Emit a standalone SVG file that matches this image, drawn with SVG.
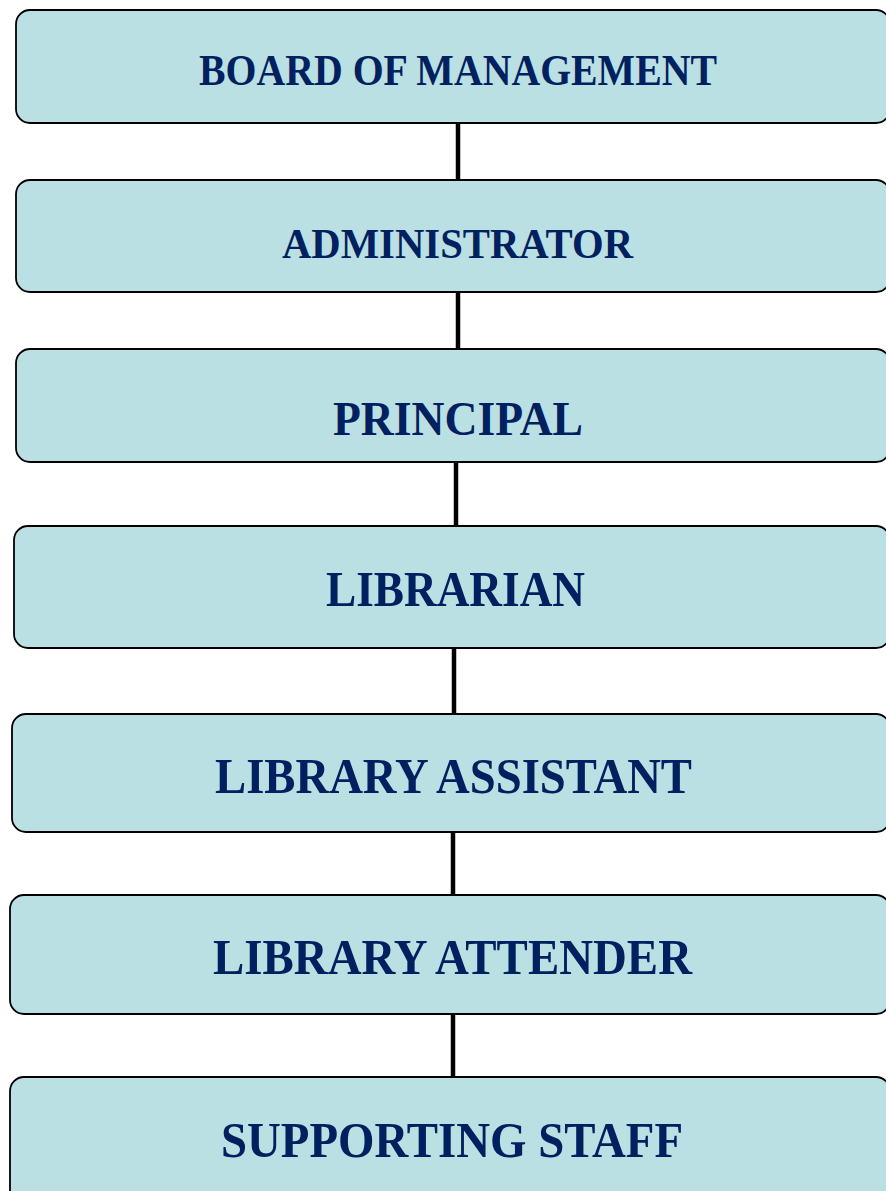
<svg xmlns="http://www.w3.org/2000/svg" width="886" height="1191" viewBox="0 0 886 1191">
  <style>
    .box { fill: #BAE0E3; stroke: #000000; stroke-width: 1.8; }
    .label { font-family: "Liberation Serif", "Times New Roman", serif; font-weight: bold; fill: #002060; }
    .link { stroke: #000000; stroke-width: 4.5; fill: none; }
  </style>
  <rect width="886" height="1191" fill="#FFFFFF"/>

  <!-- vertical links between levels -->
  <g id="connectors">
    <line class="link" x1="458" y1="123" x2="458" y2="180"/>
    <line class="link" x1="458" y1="292" x2="458" y2="349"/>
    <line class="link" x1="456" y1="462" x2="456" y2="526"/>
    <line class="link" x1="454" y1="648" x2="454" y2="714"/>
    <line class="link" x1="453" y1="832" x2="453" y2="895"/>
    <line class="link" x1="453" y1="1014" x2="453" y2="1077"/>
  </g>

  <g id="board">
    <rect class="box" x="16" y="10" width="874" height="113" rx="14"/>
    <text class="label" x="199" y="85" font-size="45" textLength="518" lengthAdjust="spacingAndGlyphs">BOARD OF MANAGEMENT</text>
  </g>

  <g id="administrator">
    <rect class="box" x="16" y="180" width="874" height="112" rx="14"/>
    <text class="label" x="282" y="258" font-size="42" textLength="351" lengthAdjust="spacingAndGlyphs">ADMINISTRATOR</text>
  </g>

  <g id="principal">
    <rect class="box" x="16" y="349" width="874" height="113" rx="14"/>
    <text class="label" x="333" y="435" font-size="48" textLength="250" lengthAdjust="spacingAndGlyphs">PRINCIPAL</text>
  </g>

  <g id="librarian">
    <rect class="box" x="14" y="526" width="876" height="122" rx="14"/>
    <text class="label" x="326" y="606" font-size="51" textLength="259" lengthAdjust="spacingAndGlyphs">LIBRARIAN</text>
  </g>

  <g id="library-assistant">
    <rect class="box" x="12" y="714" width="878" height="118" rx="14"/>
    <text class="label" x="215" y="793" font-size="50" textLength="477" lengthAdjust="spacingAndGlyphs">LIBRARY ASSISTANT</text>
  </g>

  <g id="library-attender">
    <rect class="box" x="10" y="895" width="880" height="119" rx="14"/>
    <text class="label" x="213" y="974" font-size="51" textLength="479" lengthAdjust="spacingAndGlyphs">LIBRARY ATTENDER</text>
  </g>

  <g id="supporting-staff">
    <rect class="box" x="10" y="1077" width="880" height="130" rx="14"/>
    <text class="label" x="221" y="1157" font-size="50" textLength="462" lengthAdjust="spacingAndGlyphs">SUPPORTING STAFF</text>
  </g>
</svg>
